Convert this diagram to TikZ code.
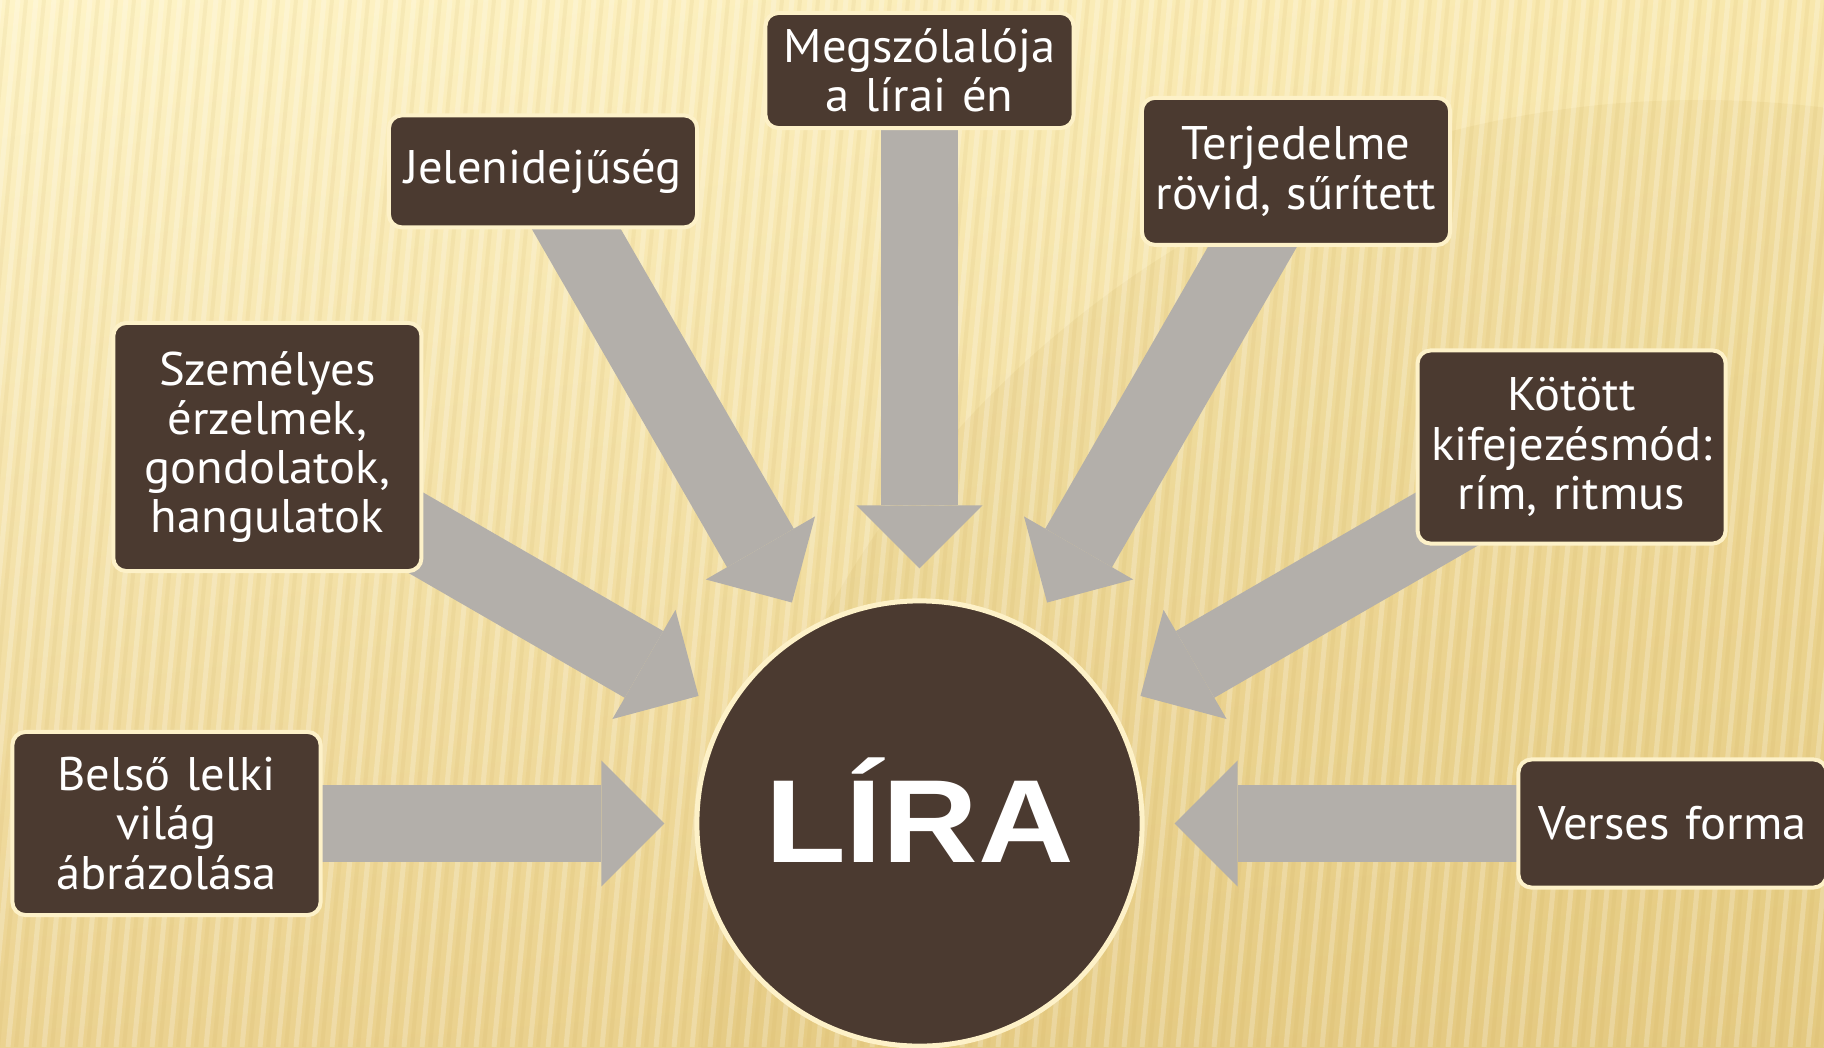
\documentclass[tikz,border=0pt]{standalone}
\usepackage{fontspec}
\setmainfont{PT Sans}[WordSpace=0.8, FakeStretch=1.03]
\newfontfamily\lirafont{Liberation Sans}[FakeStretch=1.12]
\usetikzlibrary{calc,arrows.meta,shadings}
\pgfdeclarelayer{bg}
\pgfdeclarelayer{arrowlayer}
\pgfsetlayers{bg,arrowlayer,main}
\definecolor{lirabrown}{HTML}{4B3A30}
\definecolor{liracream}{HTML}{FDF1C8}
\definecolor{arrowgray}{HTML}{B3AFAA}
\definecolor{bgUL}{HTML}{FEF4C8}
\definecolor{bgUR}{HTML}{F8E7AC}
\definecolor{bgLL}{HTML}{EBD290}
\definecolor{bgLR}{HTML}{E8CE86}
\definecolor{bgshadow}{HTML}{C9A650}

\begin{document}
\begin{tikzpicture}
[
    x=0.01cm, y=0.01cm,
    box/.style={draw=liracream, line width=0.04cm, fill=lirabrown, rounded corners=0.13cm,
        text=white, minimum width=3.08cm, text width=3.0cm, align=center, inner sep=0pt,
        font=\fontsize{13.4pt}{14pt}\selectfont},
    hub/.style={circle, draw=liracream, line width=0.05cm, fill=lirabrown, minimum size=4.45cm,
        inner sep=0pt, text=white, text height=0.776cm, text depth=0pt,
        font=\lirafont\bfseries\fontsize{33.6pt}{34pt}\selectfont},
    blockarrow/.style={draw=arrowgray, line width=0.77cm,
        -{Triangle[width=1.26cm, length=0.63cm, line width=0pt]}},
    stripelight/.style={draw=white, opacity=0.22, line width=0.05cm},
    stripedark/.style={draw=bgshadow, opacity=0.1, line width=0.04cm},
]
\useasboundingbox (0,0) rectangle (1824,1047);

\node [hub] (lira) at (919.5,223.5) {LÍRA};

\node [box, minimum height=1.83cm] (belso) at ($(lira)+(180:753)$) {Belső lelki\\világ\\ábrázolása};
\node [box, minimum height=2.48cm] (szemelyes) at ($(lira)+(150:753)$) {Személyes\\érzelmek,\\gondolatok,\\hangulatok};
\node [box, minimum height=1.12cm] (jelen) at ($(lira)+(120:753)$) {Jelenidejűség};
\node [box, minimum height=1.15cm] (megszolalo) at ($(lira)+(90:753)$) {Megszólalója\\a lírai én};
\node [box, minimum height=1.47cm] (terjedelem) at ($(lira)+(60:753)$) {Terjedelme\\rövid, sűrített};
\node [box, minimum height=1.93cm] (kotott) at ($(lira)+(30:753)$) {Kötött\\kifejezésmód:\\rím, ritmus};
\node [box, minimum height=1.28cm] (verses) at ($(lira)+(0:753)$) {Verses forma};

\begin{pgfonlayer}{arrowlayer}
\foreach \b in {belso,szemelyes,jelen,megszolalo,terjedelem,kotott,verses}
    \draw [blockarrow] (\b.center) -- ($(lira.center)!2.55cm!(\b.center)$);
\end{pgfonlayer}

\begin{pgfonlayer}{bg}
\shade [upper left=bgUL, upper right=bgUR, lower left=bgLL, lower right=bgLR] (0,0) rectangle (1824,1047);
\begin{scope}
\clip (0,0) rectangle (1824,1047);
\fill [bgshadow, opacity=0.1] (1700,-53) circle (1000);
\foreach \s in {0,...,112}
{
    \draw [stripelight] (\s*18-100,0) -- (\s*18,1047);
    \draw [stripedark] (\s*18-92,0) -- (\s*18+8,1047);
}
\end{scope}
\end{pgfonlayer}
\end{tikzpicture}
\end{document}
